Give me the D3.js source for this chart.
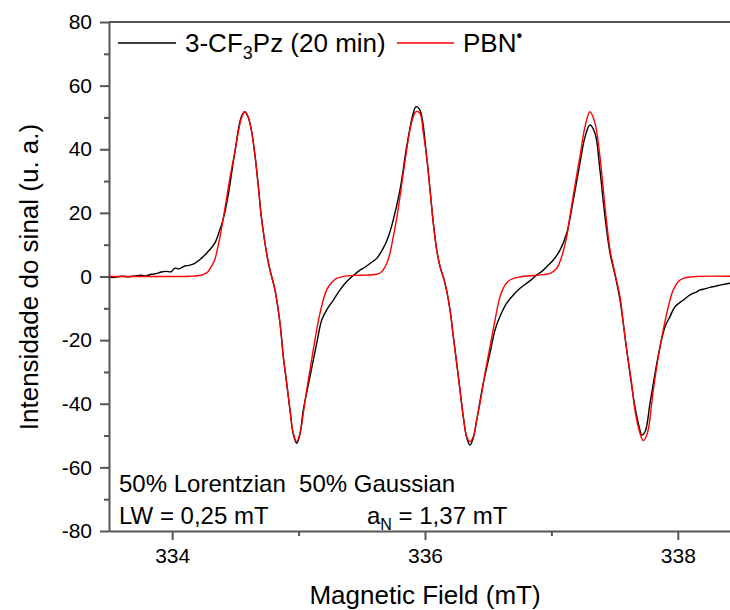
<!DOCTYPE html>
<html>
<head>
<meta charset="utf-8">
<script src="https://cdn.jsdelivr.net/npm/d3@7"></script>
<style>
  body { margin: 0; background: #fff; }
  svg { display: block; font-family: Arial, "Liberation Sans", sans-serif; }
</style>
</head>
<body>
<div id="plot"></div>
<script>
// spectrum: field in mT, intensity in a.u.
var fieldFit = [333.500, 333.824, 334.141, 334.230, 334.257, 334.283, 334.309, 334.336, 334.362, 334.388,
  334.415, 334.441, 334.468, 334.494, 334.521, 334.547, 334.574, 334.600, 334.626, 334.653,
  334.679, 334.705, 334.732, 334.754, 334.774, 334.813, 334.853, 334.879, 334.906, 334.932,
  334.958, 334.985, 335.011, 335.037, 335.064, 335.090, 335.116, 335.143, 335.169, 335.195,
  335.222, 335.262, 335.301, 335.381, 335.486, 335.618, 335.657, 335.697, 335.723, 335.749,
  335.776, 335.802, 335.828, 335.855, 335.881, 335.907, 335.929, 335.960, 335.987, 336.013,
  336.040, 336.066, 336.093, 336.119, 336.158, 336.198, 336.224, 336.251, 336.277, 336.303,
  336.330, 336.356, 336.382, 336.409, 336.435, 336.475, 336.514, 336.554, 336.593, 336.633,
  336.672, 336.752, 336.884, 336.989, 337.042, 337.081, 337.121, 337.147, 337.200, 337.226,
  337.266, 337.305, 337.345, 337.384, 337.424, 337.464, 337.503, 337.543, 337.569, 337.596,
  337.635, 337.661, 337.701, 337.727, 337.759, 337.806, 337.846, 337.885, 337.925, 337.964,
  338.004, 338.044, 338.150, 338.500];
var intensityFit = [0, 0, 0.1, 0.4, 0.8, 1.5, 3.1, 5.2, 9.4, 14.6,
  20.9, 27.2, 33.5, 38.7, 45.0, 49.7, 51.8, 50.2, 46.1, 38.7,
  29.3, 18.8, 11.0, 5.8, 2.0, -4.2, -14.7, -25.2, -33.6, -42.0,
  -49.3, -51.9, -49.3, -43.0, -35.7, -29.4, -23.1, -16.8, -11.6, -7.4,
  -4.2, -1.9, -0.6, 0.2, 0.4, 0.7, 1.5, 4.1, 7.3, 12.5,
  18.3, 25.1, 32.4, 39.8, 46.1, 50.2, 51.8, 51.3, 45.0, 37.7,
  27.2, 16.7, 8.3, 3.1, -2.1, -10.5, -18.9, -27.3, -35.7, -44.1,
  -50.4, -51.9, -50.4, -45.1, -39.9, -30.4, -22.1, -13.7, -6.4, -2.7,
  -1.1, -0.1, 0.4, 1.0, 2.6, 6.2, 12.5, 19.0, 31.9, 37.7,
  47.1, 51.8, 48.2, 37.7, 21.9, 8.3, 1.0, -6.4, -14.7, -23.1,
  -33.6, -42.0, -49.3, -51.6, -49.3, -35.7, -25.2, -16.8, -9.5, -4.2,
  -1.6, -0.6, 0, 0];

var fieldExp = [333.500, 333.530, 333.571, 333.610, 333.650, 333.706, 333.756, 333.793, 333.835, 333.872,
  333.914, 333.951, 333.993, 334.020, 334.054, 334.099, 334.133, 334.178, 334.230, 334.283,
  334.336, 334.376, 334.402, 334.441, 334.494, 334.547, 334.574, 334.600, 334.626, 334.653,
  334.679, 334.705, 334.732, 334.754, 334.774, 334.813, 334.853, 334.879, 334.906, 334.932,
  334.958, 334.985, 335.011, 335.037, 335.090, 335.143, 335.183, 335.222, 335.275, 335.328,
  335.381, 335.433, 335.486, 335.525, 335.565, 335.618, 335.670, 335.710, 335.749, 335.802,
  335.855, 335.907, 335.929, 335.960, 336.013, 336.040, 336.066, 336.093, 336.119, 336.158,
  336.198, 336.224, 336.251, 336.277, 336.303, 336.330, 336.356, 336.382, 336.409, 336.461,
  336.514, 336.554, 336.593, 336.646, 336.699, 336.752, 336.805, 336.845, 336.884, 336.925,
  336.963, 337.015, 337.068, 337.121, 337.173, 337.226, 337.266, 337.305, 337.345, 337.384,
  337.424, 337.464, 337.503, 337.543, 337.596, 337.661, 337.701, 337.714, 337.741, 337.780,
  337.820, 337.859, 337.899, 337.938, 337.978, 338.044, 338.097, 338.150, 338.175, 338.202,
  338.255, 338.295, 338.334, 338.413, 338.500];
var intensityExp = [0, -0.3, -0.1, 0.1, -0.1, 0.2, 0.4, 0.2, 0.7, 0.9,
  1.4, 1.6, 1.5, 2.6, 2.4, 3.3, 3.5, 4.1, 5.7, 7.8,
  10.4, 14.6, 17.8, 25.1, 38.7, 50.2, 51.8, 50.2, 46.1, 38.7,
  29.3, 18.8, 11.0, 5.8, 2.0, -4.2, -14.7, -25.2, -33.6, -42.0,
  -49.6, -52.4, -49.5, -42.0, -31.5, -21.0, -13.7, -10.5, -7.4, -4.2,
  -1.6, 0.3, 2.0, 2.9, 4.1, 5.7, 8.9, 12.5, 17.8, 27.2,
  40.8, 51.3, 53.4, 52.3, 37.7, 27.2, 16.7, 8.3, 3.1, -2.1,
  -10.5, -18.9, -27.3, -35.7, -44.1, -50.6, -53.0, -50.8, -45.1, -33.6,
  -24.1, -16.8, -12.6, -8.4, -5.8, -3.7, -2.1, -0.9, 0.5, 1.6,
  3.1, 5.2, 8.3, 13.6, 24.0, 35.6, 43.9, 47.6, 45.0, 33.5,
  18.8, 7.3, 0.5, -7.4, -23.1, -40.9, -48.3, -49.8, -48.8, -39.9,
  -30.4, -22.1, -15.8, -12.6, -9.5, -7.4, -5.8, -4.8, -4.2, -4.0,
  -3.4, -3.1, -2.7, -2.1, -1.8];

var xMajor = [334, 336, 338];
var xMinor = [335, 337];
var yMajor = [-80, -60, -40, -20, 0, 20, 40, 60, 80];
var yMinor = [-70, -50, -30, -10, 10, 30, 50, 70];

var fitData = fieldFit.map(function (f, i) { return { x: f, y: intensityFit[i] }; });
var expData = fieldExp.map(function (f, i) { return { x: f, y: intensityExp[i] }; });

const margin = {top: 22, left: 109},
    width = 741 - margin.left,
    height = 531 - margin.top;

const svg = d3.select("#plot")
  .append("svg")
  .attr("width", 730)
  .attr("height", 610);

const g = svg.append("g")
  .attr("transform", `translate(${margin.left}, ${margin.top})`);

const x = d3.scaleLinear().domain([333.5, 338.5]).range([0, width]);
const y = d3.scaleLinear().domain([-80, 80]).range([height, 0]);

var axisColor = "#555";
// plain hyphen, like the original figure
var plain = function (d) { return String(d); };

// minor ticks first
g.append("g")
  .attr("transform", `translate(0, ${height})`)
  .call(d3.axisBottom(x).tickValues(xMinor).tickSize(5).tickFormat(""))
  .call(a => a.select(".domain").remove());
g.append("g")
  .call(d3.axisLeft(y).tickValues(yMinor).tickSize(5).tickFormat(""))
  .call(a => a.select(".domain").remove());

g.append("g")
  .attr("class", "xaxis")
  .attr("transform", `translate(0, ${height})`)
  .call(d3.axisBottom(x).tickValues(xMajor).tickFormat(plain).tickSize(9).tickSizeOuter(0).tickPadding(8));

g.append("g")
  .attr("class", "yaxis")
  .call(d3.axisLeft(y).tickValues(yMajor).tickFormat(plain).tickSize(9).tickSizeOuter(0).tickPadding(8));

g.selectAll(".tick line, .domain")
  .attr("stroke", axisColor)
  .attr("stroke-width", 2);
g.selectAll(".tick text")
  .attr("fill", "#000")
  .style("font-size", "21px")
  .style("font-family", "Arial, 'Liberation Sans', sans-serif");

// top frame line
g.append("line")
  .attr("x1", 0).attr("x2", width)
  .attr("y1", 0).attr("y2", 0)
  .attr("stroke", axisColor)
  .attr("stroke-width", 2);

const line = d3.line()
  .x(d => x(d.x))
  .y(d => y(d.y))
  .curve(d3.curveCatmullRom.alpha(0.5));

g.append("path")
  .datum(expData)
  .attr("fill", "none")
  .attr("stroke", "#000")
  .attr("stroke-width", 1.4)
  .attr("d", line);

g.append("path")
  .datum(fitData)
  .attr("fill", "none")
  .attr("stroke", "#ff0000")
  .attr("stroke-width", 1.4)
  .attr("d", line);

// legend
var legend = svg.append("g");
legend.append("line")
  .attr("x1", 118).attr("x2", 176).attr("y1", 43).attr("y2", 43)
  .attr("stroke", "#000").attr("stroke-width", 1.4);
var t1 = legend.append("text")
  .attr("x", 185).attr("y", 52)
  .style("font-size", "26px");
t1.append("tspan").text("3-CF");
t1.append("tspan").attr("dy", 7).style("font-size", "18px").text("3");
t1.append("tspan").attr("dy", -7).text("Pz (20 min)");

legend.append("line")
  .attr("x1", 397).attr("x2", 454).attr("y1", 43).attr("y2", 43)
  .attr("stroke", "#ff0000").attr("stroke-width", 1.4);
var t2 = legend.append("text")
  .attr("x", 463).attr("y", 52)
  .style("font-size", "26px");
t2.append("tspan").text("PBN");
t2.append("tspan").attr("dy", -11).style("font-size", "16px").style("font-weight", "bold").text("•");

// annotations
svg.append("text")
  .attr("x", 119).attr("y", 492)
  .style("font-size", "24px")
  .text("50% Lorentzian\u00a0\u00a050% Gaussian");
svg.append("text")
  .attr("x", 119).attr("y", 524)
  .style("font-size", "24px")
  .text("LW = 0,25 mT");
var an = svg.append("text")
  .attr("x", 367).attr("y", 524)
  .style("font-size", "24px");
an.append("tspan").text("a");
an.append("tspan").attr("dy", 6).style("font-size", "16px").text("N");
an.append("tspan").attr("dy", -6).text(" = 1,37 mT");

// axis titles
svg.append("text")
  .attr("x", 425).attr("y", 604)
  .attr("text-anchor", "middle")
  .style("font-size", "26px")
  .text("Magnetic Field (mT)");

svg.append("text")
  .attr("transform", "translate(38,277) rotate(-90)")
  .attr("text-anchor", "middle")
  .style("font-size", "26px")
  .text("Intensidade do sinal (u. a.)");
</script>
</body>
</html>
